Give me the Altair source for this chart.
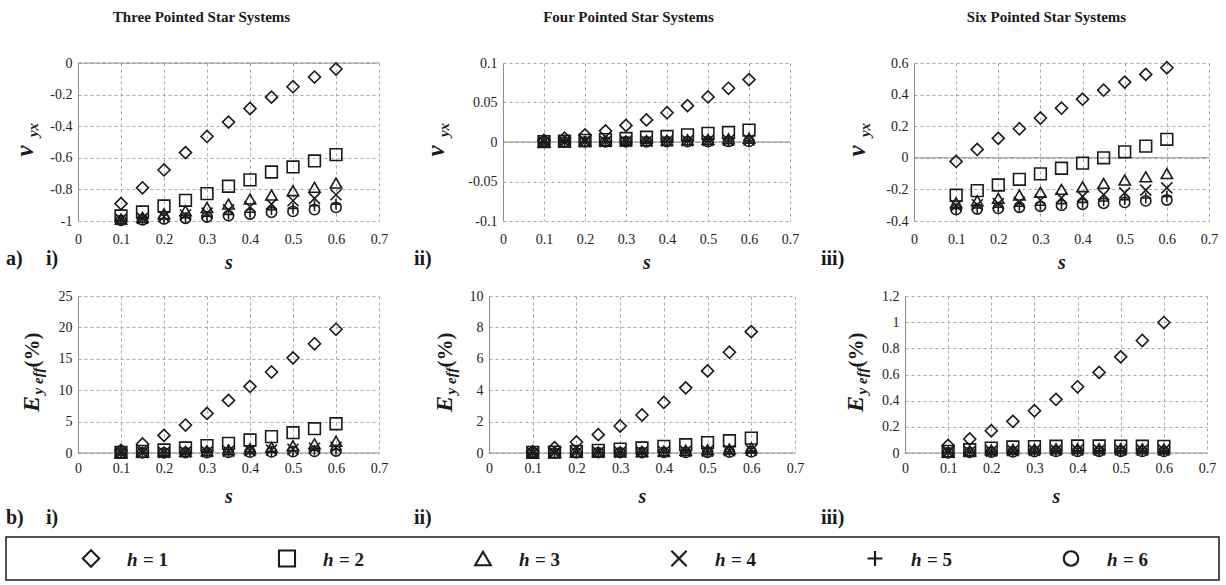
import altair as alt
import pandas as pd

# ---------------- data ----------------
S_VALUES = [0.1, 0.15, 0.2, 0.25, 0.3, 0.35, 0.4, 0.45, 0.5, 0.55, 0.6]
H_LEVELS = [1, 2, 3, 4, 5, 6]
LEGEND_TEXT = ["= 1", "= 2", "= 3", "= 4", "= 5", "= 6"]
X_TICKS = [0, 0.1, 0.2, 0.3, 0.4, 0.5, 0.6, 0.7]

COLUMN_TITLES = ["Three Pointed Star Systems", "Four Pointed Star Systems", "Six Pointed Star Systems"]

# v_yx, three pointed (rows: h = 1..6)
V_THREE = [
    [-0.89, -0.79, -0.677, -0.567, -0.465, -0.374, -0.288, -0.216, -0.15, -0.089, -0.038],
    [-0.968, -0.943, -0.905, -0.869, -0.827, -0.78, -0.74, -0.69, -0.658, -0.62, -0.58],
    [-0.987, -0.977, -0.955, -0.935, -0.914, -0.893, -0.861, -0.836, -0.808, -0.787, -0.76],
    [-0.99, -0.983, -0.973, -0.962, -0.95, -0.93, -0.91, -0.893, -0.872, -0.857, -0.834],
    [-0.994, -0.99, -0.985, -0.979, -0.97, -0.958, -0.945, -0.928, -0.92, -0.903, -0.893],
    [-0.996, -0.992, -0.987, -0.983, -0.975, -0.966, -0.956, -0.945, -0.939, -0.928, -0.914],
]
# v_yx, four pointed
V_FOUR = [
    [0.002, 0.005, 0.009, 0.014, 0.021, 0.028, 0.037, 0.046, 0.057, 0.068, 0.079],
    [0.0005, 0.001, 0.002, 0.003, 0.0045, 0.006, 0.007, 0.009, 0.011, 0.012, 0.015],
    [0.0002, 0.0004, 0.0007, 0.001, 0.0014, 0.0018, 0.0023, 0.0028, 0.0034, 0.004, 0.0046],
    [0.0001, 0.0002, 0.0004, 0.0006, 0.0008, 0.001, 0.0013, 0.0016, 0.0019, 0.0022, 0.0026],
    [0.0001, 0.0001, 0.0002, 0.0003, 0.0004, 0.0006, 0.0007, 0.0009, 0.0011, 0.0013, 0.0015],
    [0.0, 0.0001, 0.0001, 0.0002, 0.0003, 0.0003, 0.0004, 0.0005, 0.0006, 0.0007, 0.0008],
]
# v_yx, six pointed
V_SIX = [
    [-0.023, 0.053, 0.123, 0.184, 0.252, 0.314, 0.371, 0.428, 0.479, 0.528, 0.57],
    [-0.237, -0.208, -0.172, -0.136, -0.102, -0.066, -0.034, 0.0, 0.038, 0.074, 0.117],
    [-0.284, -0.272, -0.256, -0.236, -0.218, -0.2, -0.183, -0.162, -0.141, -0.12, -0.1],
    [-0.303, -0.297, -0.29, -0.282, -0.269, -0.254, -0.244, -0.233, -0.222, -0.205, -0.19],
    [-0.322, -0.318, -0.313, -0.307, -0.3, -0.29, -0.282, -0.273, -0.265, -0.254, -0.244],
    [-0.328, -0.324, -0.32, -0.313, -0.307, -0.3, -0.294, -0.288, -0.282, -0.273, -0.267],
]
# E_y eff (%), three pointed
E_THREE = [
    [0.42, 1.43, 2.8, 4.45, 6.3, 8.37, 10.6, 12.9, 15.15, 17.4, 19.7],
    [0.1, 0.26, 0.48, 0.8, 1.17, 1.54, 2.07, 2.6, 3.23, 3.87, 4.66],
    [0.05, 0.1, 0.16, 0.26, 0.37, 0.53, 0.69, 0.9, 1.17, 1.48, 1.85],
    [0.02, 0.05, 0.08, 0.13, 0.19, 0.27, 0.36, 0.47, 0.6, 0.75, 0.9],
    [0.01, 0.03, 0.05, 0.08, 0.12, 0.17, 0.22, 0.29, 0.36, 0.45, 0.55],
    [0.01, 0.02, 0.03, 0.05, 0.07, 0.1, 0.13, 0.17, 0.21, 0.26, 0.32],
]
# E_y eff (%), four pointed
E_FOUR = [
    [0.08, 0.34, 0.7, 1.17, 1.72, 2.42, 3.22, 4.15, 5.23, 6.42, 7.73],
    [0.04, 0.06, 0.1, 0.17, 0.25, 0.32, 0.42, 0.53, 0.66, 0.78, 0.95],
    [0.02, 0.03, 0.04, 0.06, 0.08, 0.1, 0.13, 0.17, 0.21, 0.26, 0.32],
    [0.01, 0.02, 0.03, 0.04, 0.05, 0.06, 0.08, 0.1, 0.12, 0.15, 0.18],
    [0.01, 0.01, 0.02, 0.03, 0.03, 0.04, 0.05, 0.06, 0.08, 0.1, 0.12],
    [0.0, 0.01, 0.01, 0.02, 0.02, 0.03, 0.04, 0.04, 0.05, 0.06, 0.07],
]
# E_y eff (%), six pointed
E_SIX = [
    [0.058, 0.107, 0.17, 0.242, 0.323, 0.41, 0.506, 0.616, 0.735, 0.86, 0.997],
    [0.013, 0.025, 0.038, 0.046, 0.049, 0.052, 0.054, 0.054, 0.053, 0.052, 0.051],
    [0.008, 0.015, 0.022, 0.027, 0.03, 0.032, 0.033, 0.033, 0.033, 0.032, 0.031],
    [0.005, 0.01, 0.014, 0.018, 0.02, 0.022, 0.023, 0.023, 0.023, 0.022, 0.022],
    [0.003, 0.007, 0.01, 0.013, 0.015, 0.016, 0.017, 0.017, 0.017, 0.017, 0.016],
    [0.002, 0.005, 0.007, 0.009, 0.011, 0.012, 0.012, 0.013, 0.013, 0.012, 0.012],
]

Y_TICKS_V3 = [-1, -0.8, -0.6, -0.4, -0.2, 0]
Y_TICKS_V4 = [-0.1, -0.05, 0, 0.05, 0.1]
Y_TICKS_V6 = [-0.4, -0.2, 0, 0.2, 0.4, 0.6]
Y_TICKS_E3 = [0, 5, 10, 15, 20, 25]
Y_TICKS_E4 = [0, 2, 4, 6, 8, 10]
Y_TICKS_E6 = [0, 0.2, 0.4, 0.6, 0.8, 1, 1.2]

# ---------------- style ----------------
FONT = "Liberation Serif"
INK = "#1a1a1a"
GRID = "#a8a8a8"
AXISLINE = "#8c8c8c"
SHAPES = ["diamond", "square", "triangle-up", "M-1,-1L1,1M1,-1L-1,1", "M-1,0L1,0M0,-1L0,1", "circle"]
SIZES = [145, 105, 115, 85, 100, 105]
STROKES = [1.6, 1.6, 1.6, 1.7, 2.7, 1.6]
LEG_SIZES = [270, 210, 290, 100, 150, 240]
LEG_STROKES = [2, 2.2, 2, 2, 3.5, 2]


def long_df(series):
    rows = []
    for hi, vals in zip(H_LEVELS, series):
        for s, v in zip(S_VALUES, vals):
            rows.append({"s": s, "v": v, "h": hi})
    return pd.DataFrame(rows)


def txt(text, x, y, size, style="normal", weight="bold", angle=0, align="left"):
    return alt.Chart(pd.DataFrame({"t": [text]})).mark_text(
        font=FONT, fontSize=size, fontStyle=style, fontWeight=weight, angle=angle,
        align=align, baseline="alphabetic", color=INK
    ).encode(text="t:N", x=alt.value(x), y=alt.value(y))


def panel(series, yticks, w, h, kind, tags, ytitle_x, xlab_pad, xtitle_pad,
          title=None, title_dx=0):
    df = long_df(series)
    xscale = alt.Scale(domain=[0, 0.7], nice=False, zero=False)
    yscale = alt.Scale(domain=[yticks[0], yticks[-1]], nice=False, zero=False)
    xaxis = alt.Axis(values=X_TICKS, labelExpr="'' + datum.value", grid=True,
                     gridDash=[3, 3], gridColor=GRID, gridWidth=1, domain=False, ticks=False,
                     labelPadding=xlab_pad, labelFont=FONT, labelFontSize=14, labelColor="#222",
                     labelFlush=False, title="s", titleFont=FONT, titleFontSize=20,
                     titleFontStyle="italic", titleFontWeight="bold", titleColor=INK,
                     titlePadding=xtitle_pad)
    yaxis = alt.Axis(values=yticks, labelExpr="'' + datum.value", grid=True,
                     gridDash=[3, 3], gridColor=GRID, gridWidth=1, domain=True,
                     domainColor=AXISLINE, ticks=False, labelPadding=6, labelFont=FONT,
                     labelFontSize=14, labelColor="#222", labelFlush=False, title=None)
    zero = alt.Chart(pd.DataFrame({"v": [0.0]})).mark_rule(color=AXISLINE, strokeWidth=1).encode(
        y=alt.Y("v:Q", scale=yscale, axis=yaxis), x=alt.value(0), x2=alt.value(w))
    pts = alt.Chart(df).mark_point(filled=False, color=INK, opacity=1).encode(
        x=alt.X("s:Q", scale=xscale, axis=xaxis),
        y=alt.Y("v:Q", scale=yscale, axis=yaxis),
        shape=alt.Shape("h:O", scale=alt.Scale(domain=H_LEVELS, range=SHAPES), legend=None),
        size=alt.Size("h:O", scale=alt.Scale(domain=H_LEVELS, range=SIZES), legend=None),
        strokeWidth=alt.StrokeWidth("h:O", scale=alt.Scale(domain=H_LEVELS, range=STROKES), legend=None),
    )
    layers = [zero, pts]
    if kind == "v":
        layers.append(txt("v", ytitle_x, 88, 25, "italic", angle=270, align="center"))
        layers.append(txt("yx", ytitle_x + 5, 67, 15, "italic", angle=270, align="center"))
        tag_y = 202
    else:
        layers.append(txt("E", ytitle_x, 108, 24, "italic", angle=270, align="center"))
        layers.append(txt("y eff", ytitle_x + 4, 85, 15, "italic", angle=270, align="center"))
        layers.append(txt("(%)", ytitle_x, 54, 21, angle=270, align="center"))
        tag_y = 228
    for t, tx in tags:
        layers.append(txt(t, tx, tag_y, 20))
    props = dict(width=w, height=h)
    if title:
        props["title"] = alt.TitleParams(text=title, font=FONT, fontSize=15, fontWeight="bold",
                                         anchor="middle", frame="group", dx=title_dx, offset=19,
                                         baseline="alphabetic", color=INK)
    return alt.layer(*layers).properties(**props)


top = alt.hconcat(
    panel(V_THREE, Y_TICKS_V3, 301, 158, "v", [("a)", -72), ("i)", -32)], -45, 11, 6,
          COLUMN_TITLES[0], -27),
    panel(V_FOUR, Y_TICKS_V4, 287, 158, "v", [("ii)", -89)], -59, 11, 6,
          COLUMN_TITLES[1], -18),
    panel(V_SIX, Y_TICKS_V6, 295, 158, "v", [("iii)", -93)], -49, 11, 6,
          COLUMN_TITLES[2], -15),
    spacing=124, bounds="flush",
)
bottom = alt.hconcat(
    panel(E_THREE, Y_TICKS_E3, 301, 157, "E", [("b)", -72), ("i)", -32)], -39, 8, 11),
    panel(E_FOUR, Y_TICKS_E4, 306, 157, "E", [("ii)", -75)], -37, 8, 11),
    panel(E_SIX, Y_TICKS_E6, 302, 157, "E", [("iii)", -84)], -42, 8, 11),
    spacing=110, bounds="flush",
)

# ---------------- legend ----------------
LW, LH = 1141, 43
leg_df = pd.DataFrame({"h": H_LEVELS, "lab": LEGEND_TEXT})
lx = alt.X("h:O", scale=alt.Scale(type="point", domain=H_LEVELS, range=[53, 1033], padding=0), axis=None)
box = alt.Chart(pd.DataFrame({"a": [0]})).mark_rect(fillOpacity=0, stroke=INK, strokeWidth=1.5).encode(
    x=alt.value(-72), x2=alt.value(LW), y=alt.value(0), y2=alt.value(LH))
leg_sym = alt.Chart(leg_df).mark_point(filled=False, color=INK, opacity=1, xOffset=-40).encode(
    x=lx, y=alt.value(LH / 2),
    shape=alt.Shape("h:O", scale=alt.Scale(domain=H_LEVELS, range=SHAPES), legend=None),
    size=alt.Size("h:O", scale=alt.Scale(domain=H_LEVELS, range=LEG_SIZES), legend=None),
    strokeWidth=alt.StrokeWidth("h:O", scale=alt.Scale(domain=H_LEVELS, range=LEG_STROKES), legend=None),
)
leg_h = alt.Chart(leg_df).mark_text(font=FONT, fontSize=19, fontStyle="italic", fontWeight="bold",
                                     align="left", baseline="middle", dx=-4, color=INK).encode(
    x=lx, y=alt.value(LH / 2 + 1), text=alt.value("h"))
leg_t = alt.Chart(leg_df).mark_text(font=FONT, fontSize=19, fontWeight="bold",
                                     align="left", baseline="middle", dx=12, color=INK).encode(
    x=lx, y=alt.value(LH / 2 + 1), text="lab:N")
legend = alt.layer(box, leg_sym, leg_h, leg_t).properties(width=LW, height=LH)

chart = alt.vconcat(
    alt.vconcat(top, bottom, spacing=17),
    legend,
    spacing=8,
).resolve_scale(shape="independent", size="independent", strokeWidth="independent").configure_view(
    strokeWidth=0
).properties(padding={"left": 5, "top": 10, "right": 5, "bottom": 1}, background="white")

chart.save("out.html", embed_options={"renderer": "svg", "actions": False})
